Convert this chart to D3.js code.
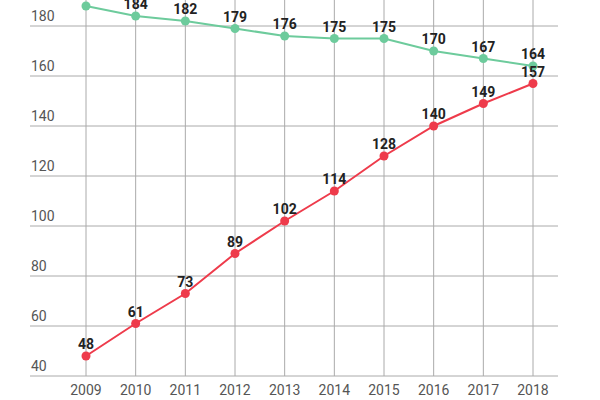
<!DOCTYPE html>
<html><head><meta charset="utf-8">
<script src="https://cdn.jsdelivr.net/npm/d3@7"></script>
<style>body{margin:0;background:#fff}text{font-family:Roboto,sans-serif}</style>
</head><body><div id="chart"></div>
<script>
const years = [2009, 2010, 2011, 2012, 2013, 2014, 2015, 2016, 2017, 2018];
const greenVals = [188, 184, 182, 179, 176, 175, 175, 170, 167, 164];
const redVals = [48, 61, 73, 89, 102, 114, 128, 140, 149, 157];
const yTicks = [40, 60, 80, 100, 120, 140, 160, 180];

let width = 600, height = 400;
let svg = d3.select("#chart").append("svg").attr("width", width).attr("height", height);

let x = d3.scalePoint().domain(years).range([86, 533]);
let y = d3.scaleLinear().domain([40, 180]).range([376, 26]);

// horizontal grid + y labels
svg.append("g").selectAll("line").data(yTicks).enter().append("line")
    .attr("x1", 30).attr("x2", 558)
    .attr("y1", d => y(d)).attr("y2", d => y(d))
    .style("stroke", "#aaa").style("stroke-width", 1);
svg.append("g").selectAll("text").data(yTicks).enter().append("text")
    .attr("x", 31).attr("y", d => y(d) - 5)
    .style("font-size", "14px").style("fill", "#555")
    .text(d => d);

// vertical grid + x labels
svg.append("g").selectAll("line").data(years).enter().append("line")
    .attr("x1", d => x(d)).attr("x2", d => x(d))
    .attr("y1", 0).attr("y2", 376)
    .style("stroke", "#aaa").style("stroke-width", 1);
svg.append("g").selectAll("text").data(years).enter().append("text")
    .attr("x", d => x(d)).attr("y", 395)
    .style("text-anchor", "middle").style("font-size", "14px").style("fill", "#555")
    .text(d => d);

function drawSeries(vals, color) {
    let line = d3.line().x((d, i) => x(years[i])).y(d => y(d));
    svg.append("path").datum(vals).attr("d", line)
        .style("fill", "none").style("stroke", color).style("stroke-width", 2);
    svg.append("g").selectAll("circle").data(vals).enter().append("circle")
        .attr("cx", (d, i) => x(years[i])).attr("cy", d => y(d)).attr("r", 4.5)
        .style("fill", color);
    svg.append("g").selectAll("text").data(vals).enter().append("text")
        .attr("x", (d, i) => x(years[i])).attr("y", d => y(d) - 7)
        .style("text-anchor", "middle").style("font-size", "14px")
        .style("font-weight", "bold").style("fill", "#222")
        .text(d => d);
}
drawSeries(greenVals, "#6dcb9c");
drawSeries(redVals, "#ee3b4b");
</script></body></html>
